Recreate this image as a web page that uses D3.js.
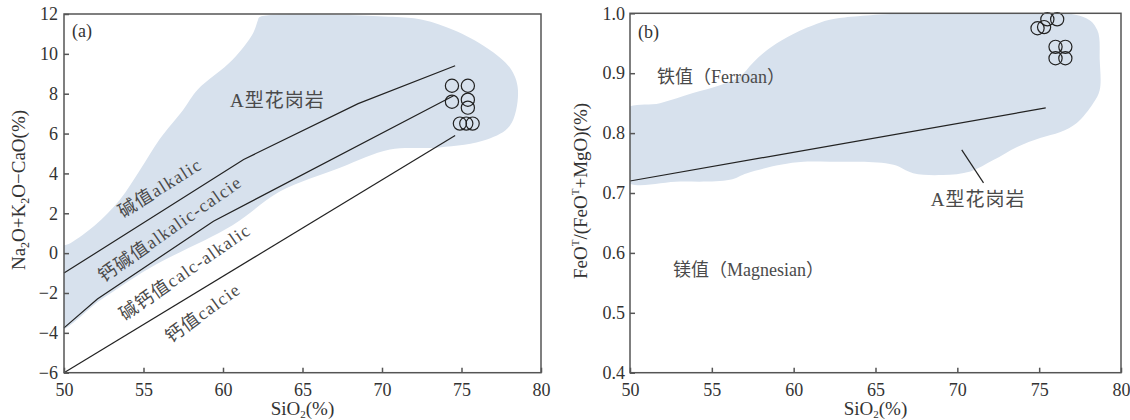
<!DOCTYPE html>
<html><head><meta charset="utf-8">
<script src="https://cdn.jsdelivr.net/npm/d3@7"></script>
<style>
body{margin:0;background:#fff;}
text{font-family:"Liberation Serif","Times New Roman","Noto Sans CJK SC",serif;}
</style>
</head><body>
<svg id="c" width="1130" height="420"></svg>
<script>
// ---------- data ----------
const xTicks = [50, 55, 60, 65, 70, 75, 80];
const aYTicks = [-6, -4, -2, 0, 2, 4, 6, 8, 10, 12];
const bYTicks = [0.4, 0.5, 0.6, 0.7, 0.8, 0.9, 1.0];

// panel (a) MALI boundaries (SiO2, Na2O+K2O-CaO)
const aLine1 = [[50, -1], [61.3, 4.7], [68.5, 7.5], [74.6, 9.4]];
const aLine2 = [[50, -3.75], [52.1, -2.3], [59.4, 1.6], [74.5, 7.9]];
const aLine3 = [[50, -6], [74.6, 5.9]];

// panel (a) A-type granite field
const aFieldSiO2 = [62.2, 61.9, 60.6, 58.4, 57.5, 56.0, 54.8, 53.5, 51.95, 50.4, 49.6, 49.6, 52.3, 55.4, 60.6, 63.6, 67.4, 70.5, 73.6, 76.6, 78.05, 78.55, 78.05, 76.6, 74.5, 72.6, 70.9, 62.3];
const aFieldMALI = [11.7, 11.05, 9.7, 8.2, 7.2, 5.7, 4.2, 2.67, 1.4, 0.5, 0.2, -3.85, -2.35, -0.74, 1.4, 3.1, 4.3, 5.2, 5.3, 5.7, 6.4, 8.2, 9.3, 10.3, 11.2, 11.7, 11.85, 11.85];

// panel (a) samples
const aSiO2 = [74.4, 75.4, 74.4, 75.4, 75.4, 74.9, 75.3, 75.7];
const aMALI = [8.4, 8.4, 7.6, 7.7, 7.3, 6.5, 6.5, 6.5];

// panel (b) Fe-index boundary
const bLine = [[50, 0.72], [75.4, 0.842]];

// panel (b) A-type granite field
const bFieldSiO2 = [49.6, 51.83, 53.85, 55.5, 56.7, 57.5, 58.4, 59.6, 61.2, 62.8, 77.7, 78.55, 78.7, 78.7, 78.3, 77.3, 76.3, 75.06, 73.65, 72.2, 70.8, 69.1, 67.3, 66.1, 64.06, 62.2, 60.6, 59.2, 57.15, 56.1, 53.06, 49.6];
const bFieldFe = [0.838, 0.850, 0.867, 0.880, 0.894, 0.917, 0.939, 0.960, 0.980, 0.992, 0.994, 0.972, 0.922, 0.872, 0.850, 0.817, 0.802, 0.792, 0.777, 0.755, 0.736, 0.730, 0.733, 0.747, 0.752, 0.752, 0.752, 0.747, 0.733, 0.722, 0.719, 0.721];

// panel (b) samples
const bSiO2 = [74.9, 75.3, 75.5, 76.1, 76.0, 76.6, 76.0, 76.6];
const bFe = [0.975, 0.977, 0.990, 0.990, 0.944, 0.944, 0.925, 0.925];

// ---------- drawing ----------
const svg = d3.select('#c');
const AX = '#555', INK = '#222', FIELD = '#d7e1ed', LBL = '#4a4a4a';
const defs = svg.append('defs');

function zip(a, b) { return a.map((v, i) => [v, b[i]]); }

function panel(o) {
  const x = d3.scaleLinear().domain([50, 80]).range([o.l, o.r]);
  const y = d3.scaleLinear().domain(o.yDomain).range([o.b, o.t]);
  const g = svg.append('g');
  const line = d3.line().x(d => x(d[0])).y(d => y(d[1]));
  const area = d3.line().x(d => x(d[0])).y(d => y(d[1])).curve(d3.curveCatmullRomClosed.alpha(0.5));

  defs.append('clipPath').attr('id', o.id).append('rect')
    .attr('x', o.l).attr('y', o.t).attr('width', o.r - o.l).attr('height', o.b - o.t);

  g.append('path').datum(o.field).attr('d', area).attr('fill', FIELD).attr('stroke', 'none')
    .attr('clip-path', `url(#${o.id})`);

  o.lines.forEach(L => g.append('path').datum(L).attr('d', line)
    .attr('fill', 'none').attr('stroke', INK).attr('stroke-width', 1.2));

  g.selectAll('circle.s').data(o.pts).join('circle').attr('class', 's')
    .attr('cx', d => x(d[0])).attr('cy', d => y(d[1])).attr('r', 6.6)
    .attr('fill', 'none').attr('stroke', INK).attr('stroke-width', 1.2);

  // axes
  const xa = g.append('g').attr('transform', `translate(0,${o.b})`)
    .call(d3.axisBottom(x).tickValues(xTicks).tickSizeInner(-5).tickSizeOuter(0).tickPadding(11).tickFormat(d3.format('d')));
  const ya = g.append('g').attr('transform', `translate(${o.l},0)`)
    .call(d3.axisLeft(y).tickValues(o.yTicks).tickSizeInner(-5).tickSizeOuter(0).tickPadding(o.yPad).tickFormat(o.yFmt));
  [xa, ya].forEach(a => {
    a.select('.domain').remove();
    a.selectAll('line').attr('stroke', AX).attr('stroke-width', 1.5);
    a.selectAll('text').attr('font-size', 18).attr('fill', '#333');
  });
  g.append('rect').attr('x', o.l).attr('y', o.t).attr('width', o.r - o.l).attr('height', o.b - o.t)
    .attr('fill', 'none').attr('stroke', AX).attr('stroke-width', 1.5);

  // x title
  const xt = g.append('text').attr('x', (o.l + o.r) / 2).attr('y', 415).attr('text-anchor', 'middle')
    .attr('font-size', 19).attr('fill', '#333');
  xt.append('tspan').text('SiO');
  xt.append('tspan').text('2').attr('font-size', 11).attr('dy', 3);
  xt.append('tspan').text('(%)').attr('dy', -3);

  return { g, x, y };
}

// Panel (a)
const A = panel({
  id: 'clipA', l: 64, r: 541, t: 14, b: 372.7, yDomain: [-6, 12], yTicks: aYTicks, yPad: 6,
  yFmt: d3.format('d'),
  field: zip(aFieldSiO2, aFieldMALI), lines: [aLine1, aLine2, aLine3], pts: zip(aSiO2, aMALI)
});
// Panel (b)
const B = panel({
  id: 'clipB', l: 630, r: 1121, t: 13.3, b: 372.7, yDomain: [0.4, 1.0], yTicks: bYTicks, yPad: 5,
  yFmt: d3.format('.1f'),
  field: zip(bFieldSiO2, bFieldFe), lines: [bLine], pts: zip(bSiO2, bFe)
});

// y titles
(function () {
  const t = svg.append('text').attr('transform', 'translate(25,190) rotate(-90)')
    .attr('text-anchor', 'middle').attr('font-size', 19).attr('fill', '#333');
  t.append('tspan').text('Na');
  t.append('tspan').text('2').attr('font-size', 12).attr('dy', 4);
  t.append('tspan').text('O+K').attr('dy', -4);
  t.append('tspan').text('2').attr('font-size', 12).attr('dy', 4);
  t.append('tspan').text('O\u2212CaO(%)').attr('dy', -4);

  const u = svg.append('text').attr('transform', 'translate(587,191) rotate(-90)')
    .attr('text-anchor', 'middle').attr('font-size', 19).attr('fill', '#333');
  u.append('tspan').text('FeO');
  u.append('tspan').text('T').attr('font-size', 11).attr('dy', -8);
  u.append('tspan').text('/(FeO').attr('dy', 8);
  u.append('tspan').text('T').attr('font-size', 11).attr('dy', -8);
  u.append('tspan').text('+MgO)(%)').attr('dy', 8);
})();

// panel tags
svg.append('text').attr('x', 72).attr('y', 37).attr('font-size', 18).attr('fill', '#333').text('(a)');
svg.append('text').attr('x', 638).attr('y', 38).attr('font-size', 18).attr('fill', '#333').text('(b)');

// panel (a) annotations
A.g.append('text').attr('x', A.x(60.44)).attr('y', A.y(7.33)).attr('font-size', 19)
  .attr('letter-spacing', 1).attr('fill', LBL).text('A型花岗岩');
[
  ['碱值alkalic', 56.04, 3.27, -32],
  ['钙碱值alkalic-calcie', 56.67, 1.21, -35],
  ['碱钙值calc-alkalic', 57.61, -0.95, -34.7],
  ['钙值calcie', 58.74, -3.0, -36]
].forEach(([s, sx, sy, ang]) => {
  A.g.append('text').attr('transform', `translate(${A.x(sx)},${A.y(sy)}) rotate(${ang})`)
    .attr('text-anchor', 'middle').attr('dominant-baseline', 'central')
    .attr('font-size', 18).attr('letter-spacing', 1.2).attr('fill', LBL).text(s);
});

// panel (b) annotations
B.g.append('text').attr('x', B.x(51.65)).attr('y', B.y(0.884)).attr('font-size', 18).attr('fill', LBL).text('铁值（Ferroan）');
B.g.append('text').attr('x', B.x(52.63)).attr('y', B.y(0.561)).attr('font-size', 18).attr('fill', LBL).text('镁值（Magnesian）');
B.g.append('text').attr('x', B.x(71.27)).attr('y', B.y(0.679)).attr('text-anchor', 'middle').attr('font-size', 19)
  .attr('letter-spacing', 1).attr('fill', LBL).text('A型花岗岩');
B.g.append('line').attr('x1', B.x(70.27)).attr('y1', B.y(0.772)).attr('x2', B.x(71.6)).attr('y2', B.y(0.717))
  .attr('stroke', INK).attr('stroke-width', 1.2);
</script>
</body></html>
